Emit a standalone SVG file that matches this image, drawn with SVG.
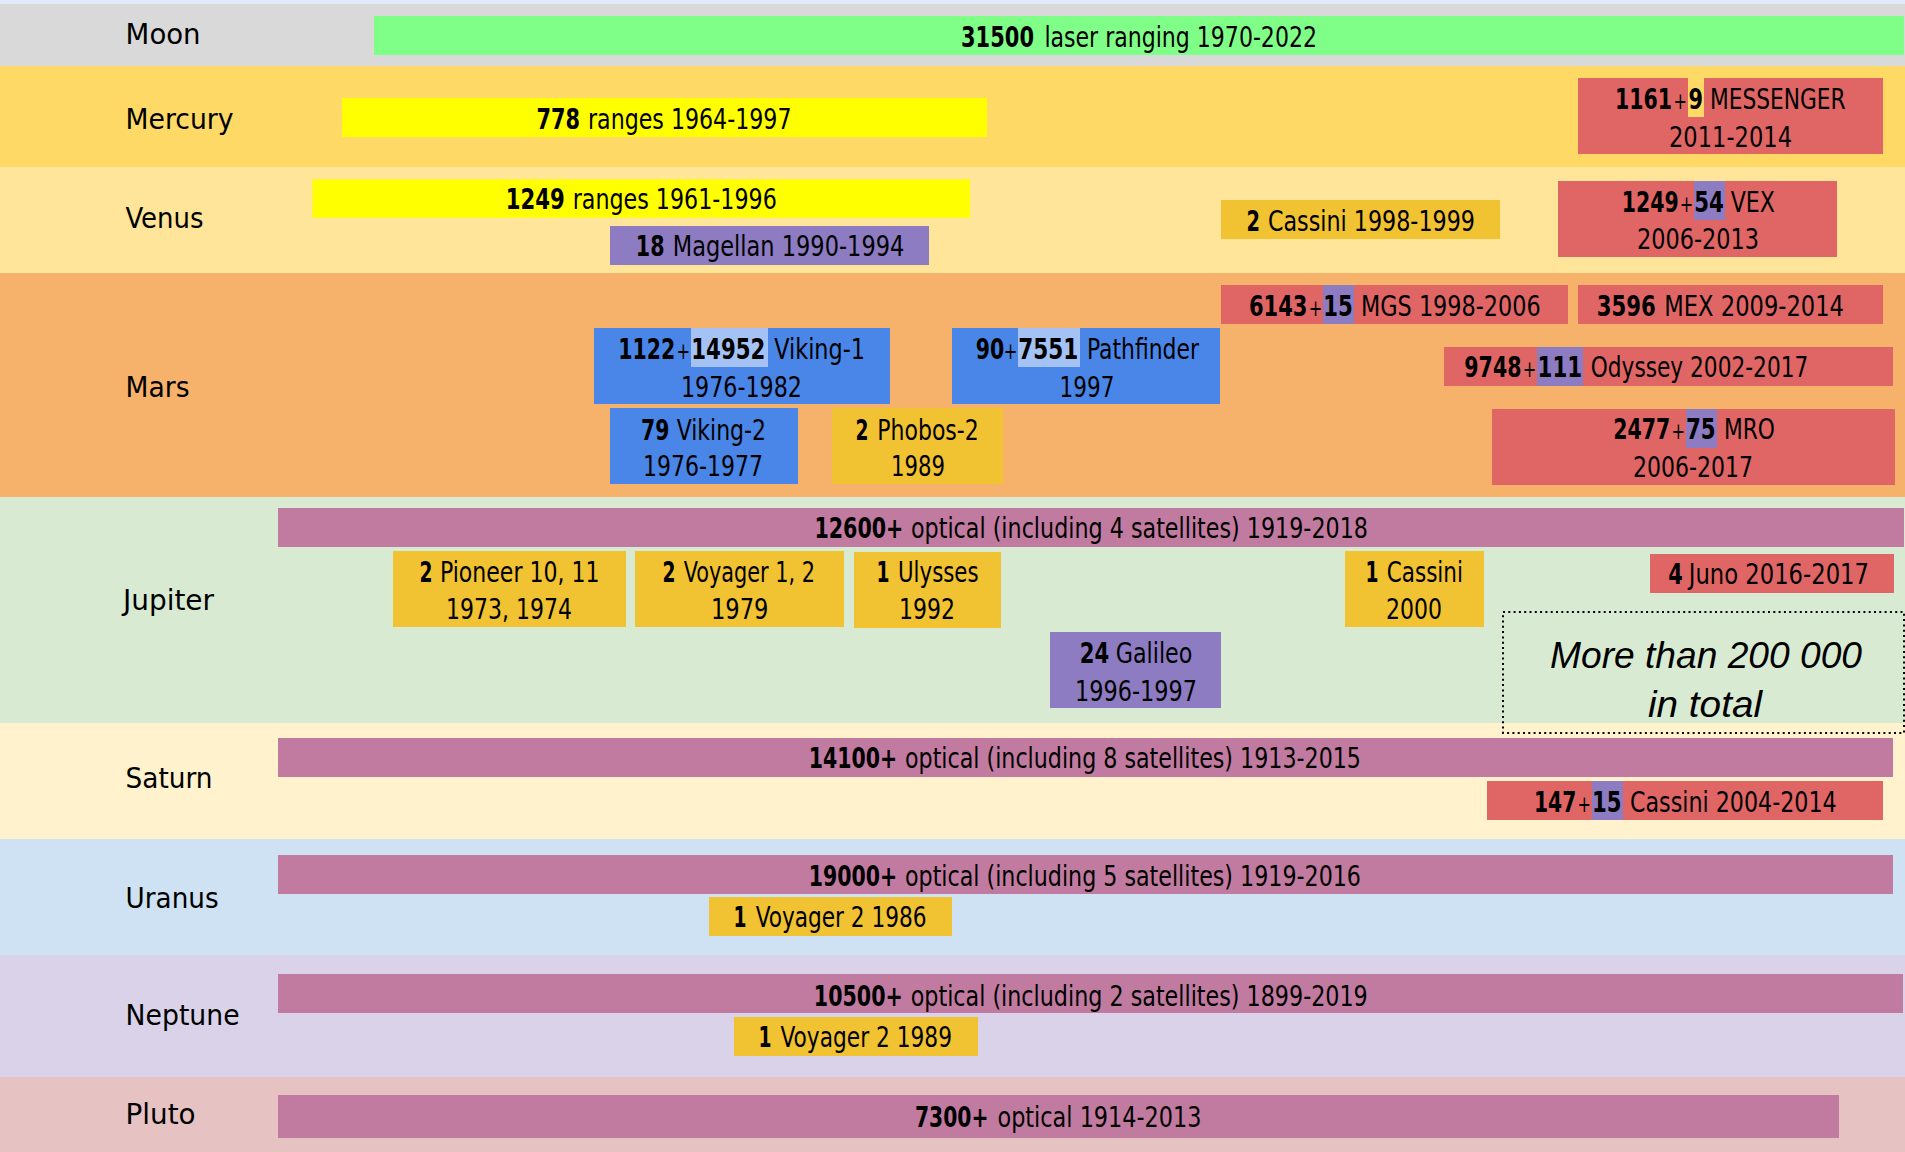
<svg xmlns="http://www.w3.org/2000/svg" width="1905" height="1152" viewBox="0 0 1905 1152">
<style>
text{font-family:'Liberation Sans Narrow','DejaVu Sans Condensed','Liberation Sans',sans-serif;font-size:22.5px;fill:#000}
.L{font-size:29px}
.b{font-weight:bold}
.p{font-size:18px;text-anchor:middle}
.it{font-family:'Liberation Sans',sans-serif;font-style:italic;font-size:37px}
.red{fill:#e06666}.blu{fill:#4a86e8}.lbl{fill:#a4c2f4}.pur{fill:#8e7cc3}.org{fill:#f1c232}.yel{fill:#ffff00}.mag{fill:#c27ba0}.grn{fill:#80ff88}
</style>
<g id="bands">
<rect x="0" y="0" width="1905" height="4" fill="#e0eafb"/>
<rect x="0" y="4" width="1905" height="62" fill="#d9d9d9"/>
<rect x="0" y="66" width="1905" height="101" fill="#ffd966"/>
<rect x="0" y="167" width="1905" height="106" fill="#ffe599"/>
<rect x="0" y="273" width="1905" height="224" fill="#f6b26b"/>
<rect x="0" y="497" width="1905" height="226" fill="#d9ead3"/>
<rect x="0" y="723" width="1905" height="116" fill="#fff2cc"/>
<rect x="0" y="839" width="1905" height="116" fill="#cfe2f3"/>
<rect x="0" y="955" width="1905" height="122" fill="#d9d2e9"/>
<rect x="0" y="1077" width="1905" height="75" fill="#e6c2c2"/>
</g>
<g id="labels">
<text class="L" x="125.6" y="44.3" textLength="75" lengthAdjust="spacingAndGlyphs">Moon</text>
<text class="L" x="125.6" y="129" textLength="108" lengthAdjust="spacingAndGlyphs">Mercury</text>
<text class="L" x="125.6" y="227.7" textLength="78" lengthAdjust="spacingAndGlyphs">Venus</text>
<text class="L" x="125.6" y="396.7" textLength="64" lengthAdjust="spacingAndGlyphs">Mars</text>
<text class="L" x="123" y="610" textLength="91" lengthAdjust="spacingAndGlyphs">Jupiter</text>
<text class="L" x="125.6" y="788.3" textLength="87" lengthAdjust="spacingAndGlyphs">Saturn</text>
<text class="L" x="125.6" y="908.3" textLength="93" lengthAdjust="spacingAndGlyphs">Uranus</text>
<text class="L" x="125.6" y="1025" textLength="114" lengthAdjust="spacingAndGlyphs">Neptune</text>
<text class="L" x="125.6" y="1124.3" textLength="70" lengthAdjust="spacingAndGlyphs">Pluto</text>
</g>
<g id="moon-laser">
<rect class="grn" x="374" y="16" width="1530" height="39"/>
<g transform="scale(1,1.25)">
<text class="b" x="961" y="37.36" textLength="73" lengthAdjust="spacingAndGlyphs">31500</text>
<text x="1044.4" y="37.36" textLength="272.6" lengthAdjust="spacingAndGlyphs">laser ranging 1970-2022</text>
</g>
</g>
<g id="mercury-ranges">
<rect class="yel" x="342" y="98" width="645" height="39"/>
<g transform="scale(1,1.25)">
<text class="b" x="536.4" y="103.2" textLength="43.5" lengthAdjust="spacingAndGlyphs">778</text>
<text x="588" y="103.2" textLength="203.5" lengthAdjust="spacingAndGlyphs">ranges 1964-1997</text>
</g>
</g>
<g id="mercury-messenger">
<rect class="red" x="1578" y="78" width="305" height="76"/>
<rect x="1688" y="78" width="16" height="39" fill="#ffd966"/>
<g transform="scale(1,1.25)">
<text class="b" x="1615" y="87.2" textLength="57" lengthAdjust="spacingAndGlyphs">1161</text>
<text class="p" x="1680.3" y="87.2">+</text>
<text class="b" x="1688.5" y="87.2" textLength="14.5" lengthAdjust="spacingAndGlyphs">9</text>
<text x="1710" y="87.2" textLength="135.7" lengthAdjust="spacingAndGlyphs">MESSENGER</text>
<text x="1669" y="117.6" textLength="123" lengthAdjust="spacingAndGlyphs">2011-2014</text>
</g>
</g>
<g id="venus-ranges">
<rect class="yel" x="312.5" y="179.3" width="657.5" height="38.4"/>
<g transform="scale(1,1.25)">
<text class="b" x="505.7" y="167.2" textLength="59" lengthAdjust="spacingAndGlyphs">1249</text>
<text x="572.7" y="167.2" textLength="204.1" lengthAdjust="spacingAndGlyphs">ranges 1961-1996</text>
</g>
</g>
<g id="venus-magellan">
<rect class="pur" x="610" y="226" width="319" height="39"/>
<g transform="scale(1,1.25)">
<text class="b" x="635.8" y="204.8" textLength="28.7" lengthAdjust="spacingAndGlyphs">18</text>
<text x="672.8" y="204.8" textLength="231.5" lengthAdjust="spacingAndGlyphs">Magellan 1990-1994</text>
</g>
</g>
<g id="venus-cassini">
<rect class="org" x="1221" y="200" width="279" height="39"/>
<g transform="scale(1,1.25)">
<text class="b" x="1246.5" y="184.8" textLength="13.5" lengthAdjust="spacingAndGlyphs">2</text>
<text x="1267.9" y="184.8" textLength="207.1" lengthAdjust="spacingAndGlyphs">Cassini 1998-1999</text>
</g>
</g>
<g id="venus-vex">
<rect class="red" x="1558" y="181" width="279" height="76"/>
<rect class="pur" x="1694" y="181" width="31" height="39"/>
<g transform="scale(1,1.25)">
<text class="b" x="1621.7" y="169.6" textLength="57" lengthAdjust="spacingAndGlyphs">1249</text>
<text class="p" x="1686.5" y="169.6">+</text>
<text class="b" x="1694.2" y="169.6" textLength="29.6" lengthAdjust="spacingAndGlyphs">54</text>
<text x="1730.7" y="169.6" textLength="44.3" lengthAdjust="spacingAndGlyphs">VEX</text>
<text x="1637" y="199.2" textLength="122" lengthAdjust="spacingAndGlyphs">2006-2013</text>
</g>
</g>
<g id="mars-mgs">
<rect class="red" x="1221" y="285" width="347" height="39"/>
<rect class="pur" x="1323" y="285" width="31" height="39"/>
<g transform="scale(1,1.25)">
<text class="b" x="1249" y="252.56" textLength="58.5" lengthAdjust="spacingAndGlyphs">6143</text>
<text class="p" x="1315.6" y="252.56">+</text>
<text class="b" x="1323.2" y="252.56" textLength="29.5" lengthAdjust="spacingAndGlyphs">15</text>
<text x="1361" y="252.56" textLength="179.7" lengthAdjust="spacingAndGlyphs">MGS 1998-2006</text>
</g>
</g>
<g id="mars-mex">
<rect class="red" x="1578" y="285" width="305" height="39"/>
<g transform="scale(1,1.25)">
<text class="b" x="1596.7" y="252.56" textLength="59" lengthAdjust="spacingAndGlyphs">3596</text>
<text x="1664.3" y="252.56" textLength="179.7" lengthAdjust="spacingAndGlyphs">MEX 2009-2014</text>
</g>
</g>
<g id="mars-viking1">
<rect class="blu" x="594" y="328" width="296" height="76"/>
<rect class="lbl" x="691" y="328" width="77" height="39"/>
<g transform="scale(1,1.25)">
<text class="b" x="618.3" y="287.2" textLength="57" lengthAdjust="spacingAndGlyphs">1122</text>
<text class="p" x="683.3" y="287.2">+</text>
<text class="b" x="691.3" y="287.2" textLength="74" lengthAdjust="spacingAndGlyphs">14952</text>
<text x="774.3" y="287.2" textLength="90.7" lengthAdjust="spacingAndGlyphs">Viking-1</text>
<text x="681" y="317.36" textLength="121" lengthAdjust="spacingAndGlyphs">1976-1982</text>
</g>
</g>
<g id="mars-pathfinder">
<rect class="blu" x="952" y="328" width="268" height="76"/>
<rect class="lbl" x="1018" y="328" width="62" height="39"/>
<g transform="scale(1,1.25)">
<text class="b" x="975.7" y="287.2" textLength="28.5" lengthAdjust="spacingAndGlyphs">90</text>
<text class="p" x="1010.5" y="287.2">+</text>
<text class="b" x="1018.3" y="287.2" textLength="60" lengthAdjust="spacingAndGlyphs">7551</text>
<text x="1087" y="287.2" textLength="112" lengthAdjust="spacingAndGlyphs">Pathfinder</text>
<text x="1059.6" y="317.36" textLength="54.8" lengthAdjust="spacingAndGlyphs">1997</text>
</g>
</g>
<g id="mars-odyssey">
<rect class="red" x="1444" y="347" width="449" height="39"/>
<rect class="pur" x="1537" y="347" width="46" height="39"/>
<g transform="scale(1,1.25)">
<text class="b" x="1464.3" y="301.84" textLength="57.2" lengthAdjust="spacingAndGlyphs">9748</text>
<text class="p" x="1529.5" y="301.84">+</text>
<text class="b" x="1537.6" y="301.84" textLength="44.5" lengthAdjust="spacingAndGlyphs">111</text>
<text x="1590.7" y="301.84" textLength="217.6" lengthAdjust="spacingAndGlyphs">Odyssey 2002-2017</text>
</g>
</g>
<g id="mars-viking2">
<rect class="blu" x="610" y="408" width="188" height="76"/>
<g transform="scale(1,1.25)">
<text class="b" x="641" y="352" textLength="28.3" lengthAdjust="spacingAndGlyphs">79</text>
<text x="676.7" y="352" textLength="89.3" lengthAdjust="spacingAndGlyphs">Viking-2</text>
<text x="643" y="380.8" textLength="120" lengthAdjust="spacingAndGlyphs">1976-1977</text>
</g>
</g>
<g id="mars-phobos2">
<rect class="org" x="832" y="408" width="171" height="76"/>
<g transform="scale(1,1.25)">
<text class="b" x="855.5" y="352" textLength="13" lengthAdjust="spacingAndGlyphs">2</text>
<text x="877.3" y="352" textLength="101.4" lengthAdjust="spacingAndGlyphs">Phobos-2</text>
<text x="891" y="380.8" textLength="54" lengthAdjust="spacingAndGlyphs">1989</text>
</g>
</g>
<g id="mars-mro">
<rect class="red" x="1492" y="409" width="403" height="76"/>
<rect class="pur" x="1686" y="409" width="31" height="39"/>
<g transform="scale(1,1.25)">
<text class="b" x="1613.3" y="350.96" textLength="57" lengthAdjust="spacingAndGlyphs">2477</text>
<text class="p" x="1678.2" y="350.96">+</text>
<text class="b" x="1686" y="350.96" textLength="29.7" lengthAdjust="spacingAndGlyphs">75</text>
<text x="1724" y="350.96" textLength="51" lengthAdjust="spacingAndGlyphs">MRO</text>
<text x="1633" y="381.36" textLength="120" lengthAdjust="spacingAndGlyphs">2006-2017</text>
</g>
</g>
<g id="jupiter-optical">
<rect class="mag" x="278" y="508" width="1626" height="39"/>
<g transform="scale(1,1.25)">
<text class="b" x="814.4" y="430.64" textLength="89" lengthAdjust="spacingAndGlyphs">12600+</text>
<text x="911" y="430.64" textLength="457" lengthAdjust="spacingAndGlyphs">optical (including 4 satellites) 1919-2018</text>
</g>
</g>
<g id="jupiter-pioneer">
<rect class="org" x="393" y="551" width="233" height="76"/>
<g transform="scale(1,1.25)">
<text class="b" x="419.5" y="465.36" textLength="13" lengthAdjust="spacingAndGlyphs">2</text>
<text x="440" y="465.36" textLength="159.5" lengthAdjust="spacingAndGlyphs">Pioneer 10, 11</text>
<text x="446" y="495.44" textLength="126" lengthAdjust="spacingAndGlyphs">1973, 1974</text>
</g>
</g>
<g id="jupiter-voyager">
<rect class="org" x="635" y="551" width="209" height="76"/>
<g transform="scale(1,1.25)">
<text class="b" x="662.5" y="465.36" textLength="13" lengthAdjust="spacingAndGlyphs">2</text>
<text x="683.7" y="465.36" textLength="131.3" lengthAdjust="spacingAndGlyphs">Voyager 1, 2</text>
<text x="711" y="495.44" textLength="57.5" lengthAdjust="spacingAndGlyphs">1979</text>
</g>
</g>
<g id="jupiter-ulysses">
<rect class="org" x="854" y="552" width="147" height="76"/>
<g transform="scale(1,1.25)">
<text class="b" x="876.5" y="465.36" textLength="13" lengthAdjust="spacingAndGlyphs">1</text>
<text x="898" y="465.36" textLength="80.6" lengthAdjust="spacingAndGlyphs">Ulysses</text>
<text x="899" y="495.44" textLength="56" lengthAdjust="spacingAndGlyphs">1992</text>
</g>
</g>
<g id="jupiter-cassini">
<rect class="org" x="1345" y="551" width="139" height="76"/>
<g transform="scale(1,1.25)">
<text class="b" x="1365.5" y="465.36" textLength="13" lengthAdjust="spacingAndGlyphs">1</text>
<text x="1386.7" y="465.36" textLength="76.3" lengthAdjust="spacingAndGlyphs">Cassini</text>
<text x="1386" y="495.44" textLength="56" lengthAdjust="spacingAndGlyphs">2000</text>
</g>
</g>
<g id="jupiter-juno">
<rect class="red" x="1650" y="554" width="244" height="39"/>
<g transform="scale(1,1.25)">
<text class="b" x="1668.2" y="467.44" textLength="14.5" lengthAdjust="spacingAndGlyphs">4</text>
<text x="1688.7" y="467.44" textLength="180.3" lengthAdjust="spacingAndGlyphs">Juno 2016-2017</text>
</g>
</g>
<g id="jupiter-galileo">
<rect class="pur" x="1050" y="632" width="171" height="76"/>
<g transform="scale(1,1.25)">
<text class="b" x="1079.7" y="530.16" textLength="29.5" lengthAdjust="spacingAndGlyphs">24</text>
<text x="1115.7" y="530.16" textLength="76.7" lengthAdjust="spacingAndGlyphs">Galileo</text>
<text x="1075" y="560.56" textLength="122" lengthAdjust="spacingAndGlyphs">1996-1997</text>
</g>
</g>
<g id="saturn-optical">
<rect class="mag" x="278" y="738" width="1615" height="39"/>
<g transform="scale(1,1.25)">
<text class="b" x="808.7" y="614.64" textLength="88.5" lengthAdjust="spacingAndGlyphs">14100+</text>
<text x="905" y="614.64" textLength="456" lengthAdjust="spacingAndGlyphs">optical (including 8 satellites) 1913-2015</text>
</g>
</g>
<g id="saturn-cassini">
<rect class="red" x="1487" y="781" width="396" height="39"/>
<rect class="pur" x="1592" y="781" width="31" height="39"/>
<g transform="scale(1,1.25)">
<text class="b" x="1534" y="649.36" textLength="42.3" lengthAdjust="spacingAndGlyphs">147</text>
<text class="p" x="1584.2" y="649.36">+</text>
<text class="b" x="1592" y="649.36" textLength="29.5" lengthAdjust="spacingAndGlyphs">15</text>
<text x="1630" y="649.36" textLength="206.7" lengthAdjust="spacingAndGlyphs">Cassini 2004-2014</text>
</g>
</g>
<g id="uranus-optical">
<rect class="mag" x="278" y="855" width="1615" height="39"/>
<g transform="scale(1,1.25)">
<text class="b" x="808.7" y="708.8" textLength="88.5" lengthAdjust="spacingAndGlyphs">19000+</text>
<text x="905" y="708.8" textLength="456" lengthAdjust="spacingAndGlyphs">optical (including 5 satellites) 1919-2016</text>
</g>
</g>
<g id="uranus-voyager">
<rect class="org" x="709" y="897" width="243" height="39"/>
<g transform="scale(1,1.25)">
<text class="b" x="733.5" y="741.84" textLength="13" lengthAdjust="spacingAndGlyphs">1</text>
<text x="755.7" y="741.84" textLength="170.9" lengthAdjust="spacingAndGlyphs">Voyager 2 1986</text>
</g>
</g>
<g id="neptune-optical">
<rect class="mag" x="278" y="974" width="1625" height="39"/>
<g transform="scale(1,1.25)">
<text class="b" x="813.8" y="804.8" textLength="89" lengthAdjust="spacingAndGlyphs">10500+</text>
<text x="910.7" y="804.8" textLength="457.1" lengthAdjust="spacingAndGlyphs">optical (including 2 satellites) 1899-2019</text>
</g>
</g>
<g id="neptune-voyager">
<rect class="org" x="734" y="1017" width="244" height="39"/>
<g transform="scale(1,1.25)">
<text class="b" x="758.5" y="837.36" textLength="13" lengthAdjust="spacingAndGlyphs">1</text>
<text x="780.6" y="837.36" textLength="171.4" lengthAdjust="spacingAndGlyphs">Voyager 2 1989</text>
</g>
</g>
<g id="pluto-optical">
<rect class="mag" x="278" y="1095" width="1561" height="43"/>
<g transform="scale(1,1.25)">
<text class="b" x="915" y="901.36" textLength="73.5" lengthAdjust="spacingAndGlyphs">7300+</text>
<text x="997.5" y="901.36" textLength="204" lengthAdjust="spacingAndGlyphs">optical 1914-2013</text>
</g>
</g>
<g id="total-note">
<rect x="1503" y="612" width="401" height="121" fill="none" stroke="#000" stroke-width="2" stroke-dasharray="2 3.3"/>
<text class="it" x="1550" y="668.3" textLength="312" lengthAdjust="spacingAndGlyphs">More than 200 000</text>
<text class="it" x="1648" y="716.7" textLength="114" lengthAdjust="spacingAndGlyphs">in total</text>
</g>
<g id="connectors"></g>
</svg>
